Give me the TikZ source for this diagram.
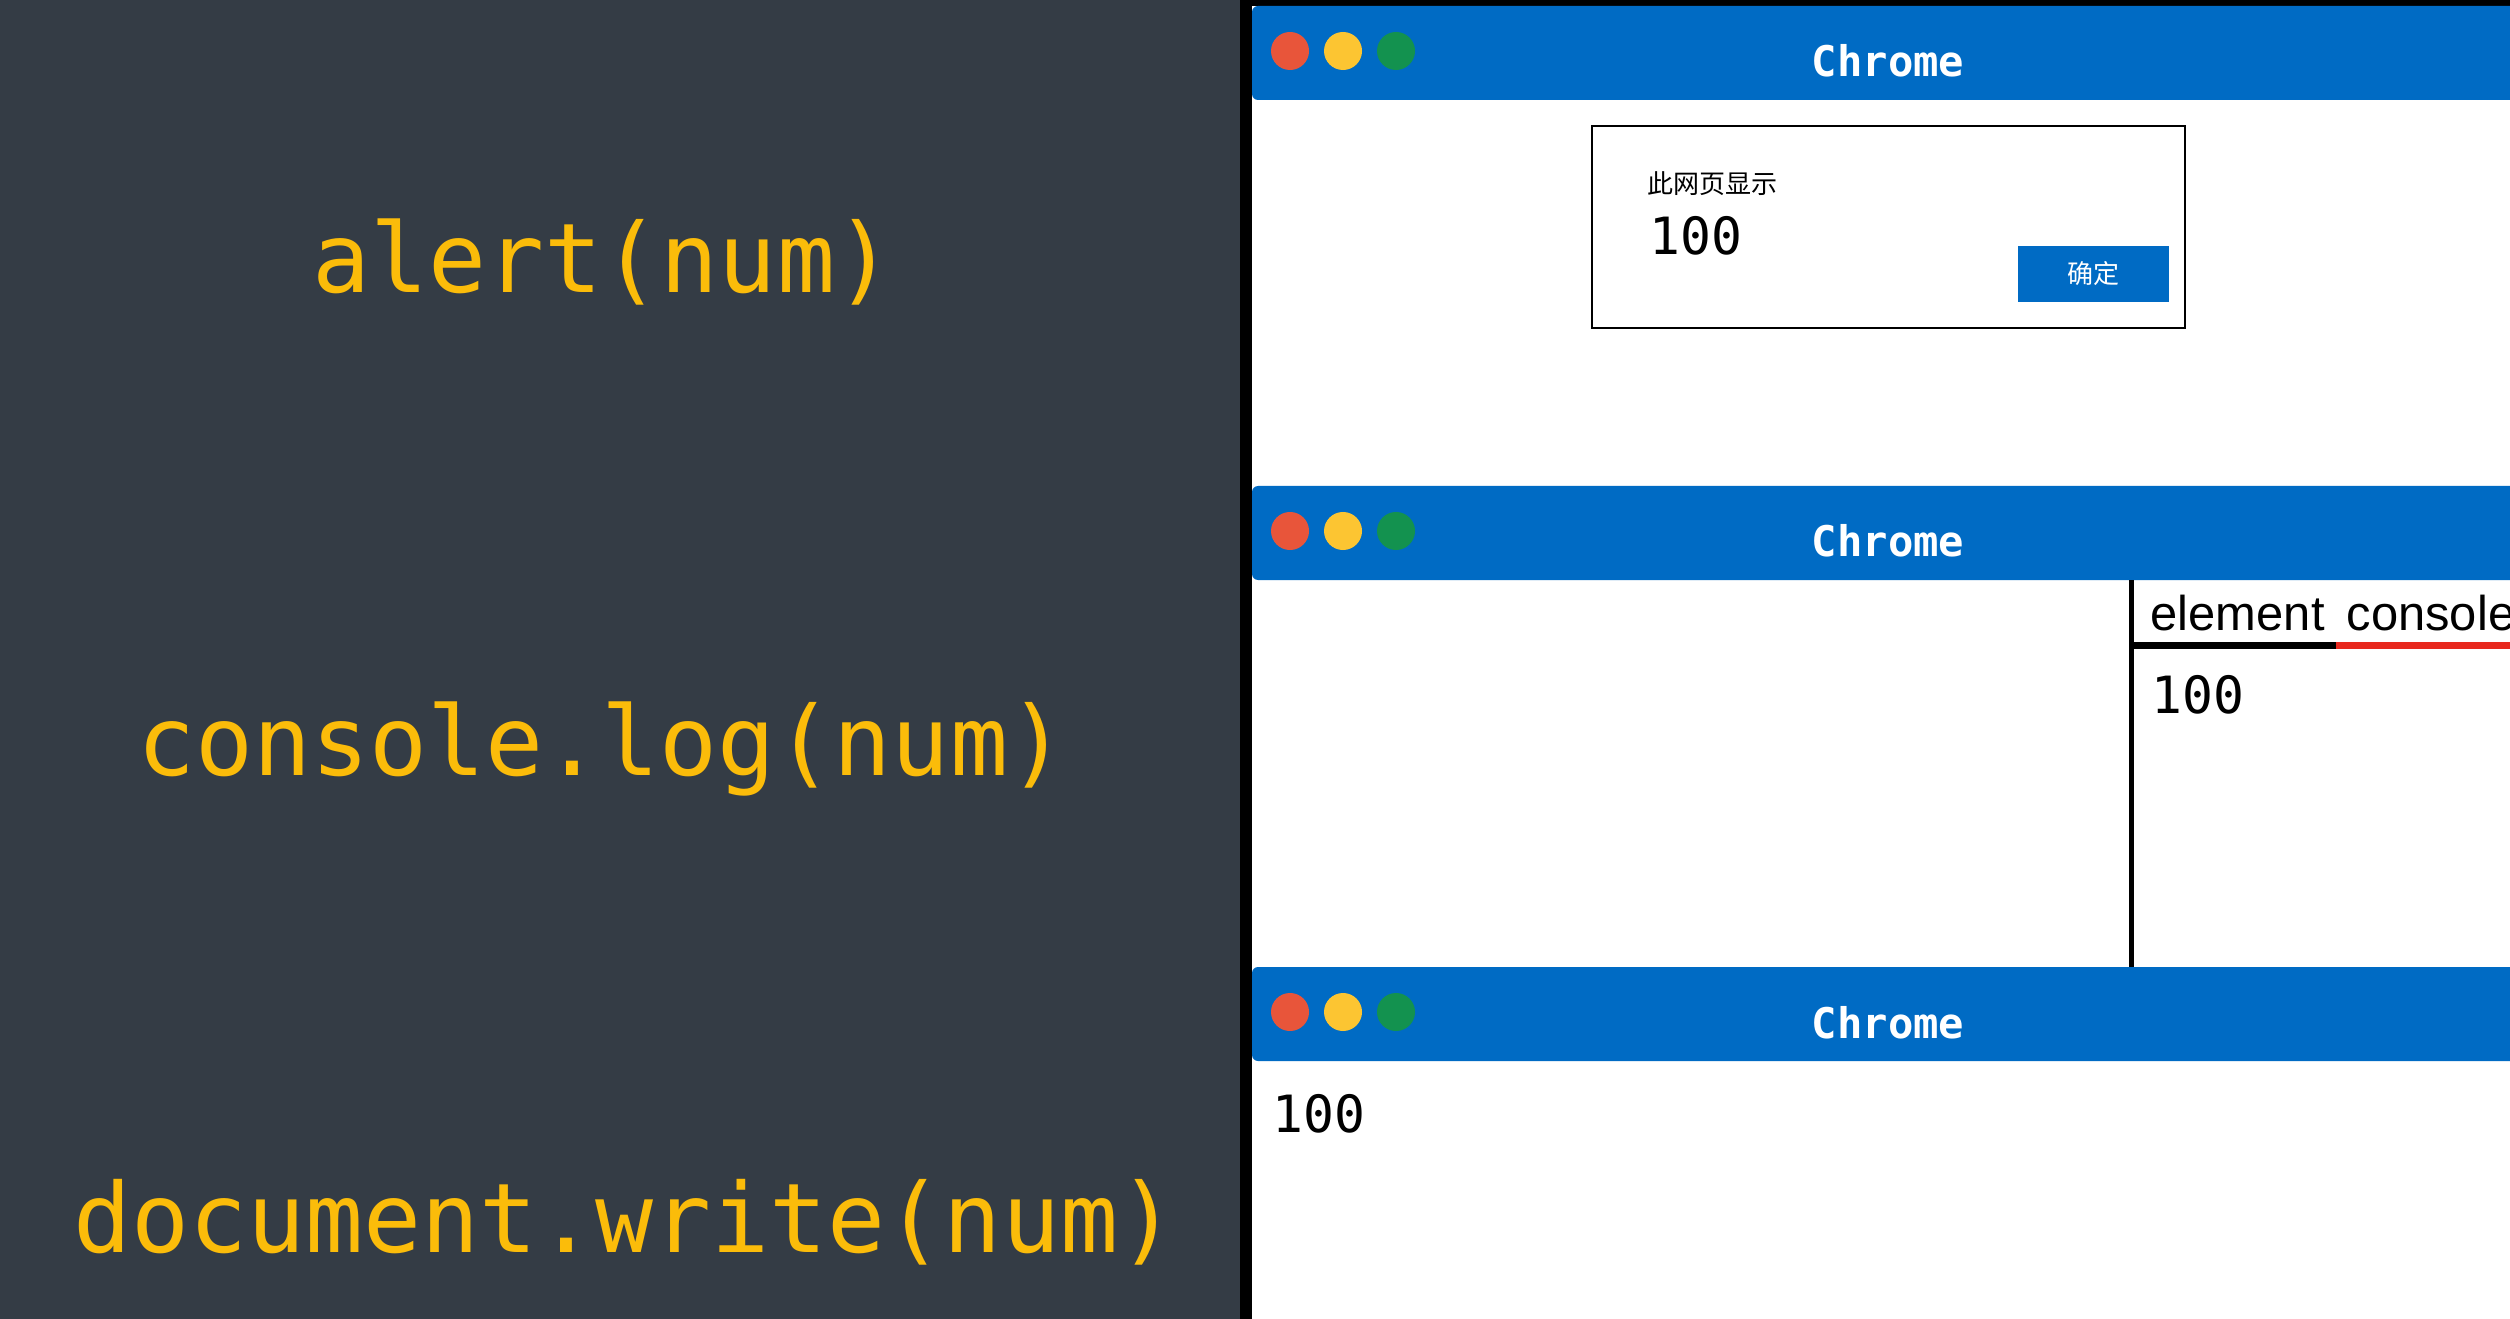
\documentclass[tikz,border=0pt]{standalone}
\usepackage{fontspec}
\setmonofont{DejaVu Sans Mono}
\newfontfamily\cjkfont{Noto Sans CJK SC}
\newfontfamily\arialfont{Liberation Sans}
\definecolor{panelbg}{HTML}{343C45}
\definecolor{codeyellow}{HTML}{FBBC0A}
\definecolor{chromeblue}{HTML}{006BC4}
\definecolor{dotred}{HTML}{E8553A}
\definecolor{dotyellow}{HTML}{FCC532}
\definecolor{dotgreen}{HTML}{13924F}
\definecolor{tabred}{HTML}{E8281E}
\begin{document}
\begin{tikzpicture}[x=0.01cm,y=-0.01cm,
  codetxt/.style={text=codeyellow, font=\ttfamily\fontsize{27.4}{30}\selectfont, anchor=base, inner sep=0},
  wintitle/.style={text=white, font=\ttfamily\bfseries\fontsize{12}{14}\selectfont, anchor=base, inner sep=0},
  outnum/.style={text=black, font=\ttfamily\fontsize{14.6}{17}\selectfont, anchor=base west, inner sep=0},
  tabtxt/.style={text=black, font=\arialfont\fontsize{13.9}{16}\selectfont, anchor=base west, inner sep=0},
  wdot/.style={circle, minimum size=0.38cm, inner sep=0, draw=none},
  header/.style={fill=chromeblue, rounded corners=0.06cm}]
\useasboundingbox (0,0) rectangle (2510,1319);
\clip (0,0) rectangle (2510,1319);
% backgrounds
\fill[panelbg] (0,0) rectangle (1240,1319);
\fill[white] (1252,6) rectangle (2510,1319);
\fill[black] (1240,0) rectangle (2510,6);
\fill[black] (1240,0) rectangle (1252,1319);
% left panel code
\node[codetxt] (calert) at (603,293) {alert(num)};
\node[codetxt] (clog) at (602,775) {console.log(num)};
\node[codetxt] (cwrite) at (625,1252) {document.write(num)};
% window headers
\foreach \ytop/\nm in {6/a,486/b,967/c}{
  \fill[header] (1252,\ytop) rectangle (2560,\ytop+94);
  \node[wdot, fill=dotred] (r\nm) at (1290,\ytop+45) {};
  \node[wdot, fill=dotyellow] (y\nm) at (1343,\ytop+45) {};
  \node[wdot, fill=dotgreen] (g\nm) at (1396,\ytop+45) {};
  \node[wintitle] (t\nm) at (1888,\ytop+71) {Chrome};
}
% window 1: alert dialog
\draw[line width=0.025cm, fill=white] (1592,126) rectangle (2185,328);
\node[inner sep=0, anchor=base west, font=\cjkfont\fontsize{7.4}{9}\selectfont] (dlgtitle) at (1647,194) {此网页显示};
\node[outnum] (dlgnum) at (1649,255) {100};
\fill[chromeblue] (2018,246) rectangle (2169,302);
\node[inner sep=0, text=white, font=\cjkfont\fontsize{7.4}{9}\selectfont] (okbtn) at (2093,274) {确定};
% window 2: devtools
\draw[line width=0.05cm] (2131,580) -- (2131,967);
\node[tabtxt] (tabel) at (2150,630) {element};
\node[tabtxt] (tabcon) at (2346,630) {console};
\fill[black] (2131,642) rectangle (2336,649);
\fill[tabred] (2336,642) rectangle (2510,649);
\node[outnum] (connum) at (2151,713) {100};
% window 3: document
\node[outnum] (docnum) at (1272,1132) {100};
\end{tikzpicture}
\end{document}
